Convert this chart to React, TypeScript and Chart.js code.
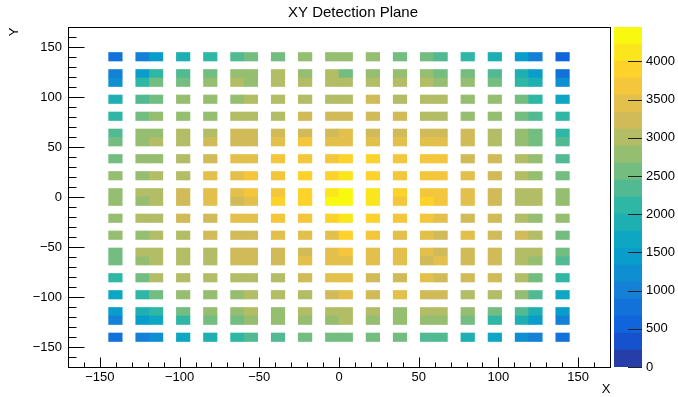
import React, { useEffect, useRef } from 'react';
import { Chart, registerables } from 'chart.js';

Chart.register(...registerables);

const TITLE = 'XY Detection Plane';
const X_TITLE = 'X';
const Y_TITLE = 'Y';

const AXIS_MIN = -170;
const AXIS_MAX = 170;
const BIN_WIDTH = 8.5;

// occupied bin centres (x left→right, y top→bottom)
const xBinCenters = [-140.25, -123.25, -114.75, -97.75, -80.75, -63.75, -55.25, -38.25, -21.25, -4.25, 4.25, 21.25, 38.25, 55.25, 63.75, 80.75, 97.75, 114.75, 123.25, 140.25];
const yBinCenters = [140.25, 123.25, 114.75, 97.75, 80.75, 63.75, 55.25, 38.25, 21.25, 4.25, -4.25, -21.25, -38.25, -55.25, -63.75, -80.75, -97.75, -114.75, -123.25, -140.25];

// bin contents, one row per y bin (top → bottom)
const row01 = [780, 1000, 1450, 1890, 2110, 2340, 2560, 2560, 2780, 2780, 2780, 2780, 2560, 2560, 2340, 2110, 1890, 1450, 1000, 560];
const row02 = [1000, 1450, 2110, 2340, 2560, 2780, 2780, 3010, 2780, 3010, 2560, 2780, 2780, 2780, 2560, 2560, 2340, 1890, 1450, 780];
const row03 = [1220, 2110, 2560, 2560, 2780, 3010, 2780, 3010, 3010, 3010, 3010, 3010, 3010, 3010, 2780, 2780, 2560, 2110, 1890, 1220];
const row04 = [1890, 2340, 2560, 2780, 2780, 2780, 3010, 3010, 3010, 3010, 3010, 3230, 3010, 3010, 3010, 2780, 2780, 2560, 2110, 1670];
const row05 = [2110, 2560, 2780, 2780, 2780, 3010, 3010, 3010, 3230, 3230, 3230, 3230, 3230, 3010, 3010, 2780, 2780, 2560, 2340, 2110];
const row06 = [2340, 2780, 2780, 3010, 3010, 3230, 3230, 3230, 3230, 3230, 3450, 3230, 3230, 3230, 3230, 3230, 3010, 2780, 2560, 2110];
const row07 = [2560, 2780, 3010, 3010, 3230, 3230, 3230, 3450, 3670, 3450, 3450, 3450, 3450, 3450, 3450, 3230, 3010, 2780, 2560, 2340];
const row08 = [2560, 2780, 2780, 3010, 3230, 3450, 3450, 3670, 3670, 3670, 3900, 3900, 3670, 3670, 3670, 3230, 3230, 3010, 2780, 2340];
const row09 = [2780, 2780, 3010, 3010, 3450, 3450, 3670, 3670, 3900, 3900, 4120, 3900, 3670, 3670, 3670, 3450, 3230, 3010, 2780, 2560];
const row10 = [2780, 3010, 3010, 3230, 3450, 3450, 3670, 3670, 3900, 4120, 4340, 4120, 3900, 3670, 3670, 3450, 3230, 3010, 3010, 2780];
const row11 = [2780, 2780, 3010, 3230, 3450, 3230, 3450, 3900, 3900, 4340, 4450, 4120, 3670, 3900, 3670, 3450, 3230, 3010, 3010, 2780];
const row12 = [2780, 3010, 3010, 3230, 3230, 3450, 3450, 3670, 3670, 3900, 4120, 3900, 3670, 3670, 3450, 3230, 3230, 3010, 2780, 2780];
const row13 = [2780, 2780, 3010, 3010, 3230, 3230, 3230, 3450, 3450, 3450, 3900, 3670, 3450, 3450, 3230, 3450, 3230, 3230, 3010, 2560];
const row14 = [2560, 3010, 3010, 3010, 3010, 3230, 3230, 3230, 3230, 3450, 3670, 3450, 3450, 3450, 3230, 3230, 3230, 3010, 3010, 2560];
const row15 = [2560, 2780, 3010, 3010, 3010, 3230, 3230, 3230, 3450, 3450, 3450, 3450, 3450, 3230, 3450, 3230, 3230, 3010, 2780, 2340];
const row16 = [2110, 2560, 3010, 3010, 3010, 3010, 3010, 3010, 3230, 3450, 3450, 3230, 3230, 3450, 3230, 3230, 3230, 3010, 2560, 2110];
const row17 = [1670, 2110, 2560, 2780, 2780, 2780, 3010, 3010, 3010, 3230, 3450, 3230, 3450, 3230, 3230, 3010, 3010, 2780, 2340, 1670];
const row18 = [1450, 1890, 2110, 2560, 2780, 2780, 3010, 2780, 3010, 3010, 3010, 3010, 2780, 3010, 3010, 2780, 2560, 2340, 1890, 1450];
const row19 = [1000, 1450, 1670, 2110, 2560, 2560, 2780, 2780, 2780, 2780, 3010, 2780, 2780, 2780, 2780, 2560, 2110, 1890, 1450, 1000];
const row20 = [780, 1000, 1220, 1670, 1890, 2110, 2340, 2340, 2560, 2560, 2560, 2560, 2560, 2340, 2340, 1890, 1670, 1220, 1000, 780];
const counts = [row01, row02, row03, row04, row05, row06, row07, row08, row09, row10, row11, row12, row13, row14, row15, row16, row17, row18, row19, row20];

const xTickValues = [-150, -100, -50, 0, 50, 100, 150];
const yTickValues = [-150, -100, -50, 0, 50, 100, 150];
const zTickValues = [0, 500, 1000, 1500, 2000, 2500, 3000, 3500, 4000];
const MINOR_STEP = 10;

const Z_MAX = 4450;
const N_CONTOURS = 20;

// ROOT kBird palette
const birdStops = [0.0, 0.125, 0.25, 0.375, 0.5, 0.625, 0.75, 0.875, 1.0];
const birdR = [0.2082, 0.0592, 0.078, 0.0232, 0.1802, 0.5301, 0.8186, 0.9956, 0.9764];
const birdG = [0.1664, 0.3599, 0.5041, 0.6419, 0.7178, 0.7492, 0.7328, 0.7862, 0.9832];
const birdB = [0.5293, 0.8684, 0.8385, 0.7914, 0.6425, 0.4662, 0.3499, 0.1968, 0.0539];

function buildPalette(n: number): string[] {
  const out: string[] = [];
  for (let g = 1; g < birdStops.length; g++) {
    const nc = Math.floor(n * birdStops[g]) - Math.floor(n * birdStops[g - 1]);
    for (let c = 0; c < nc; c++) {
      const r = birdR[g - 1] + (c * (birdR[g] - birdR[g - 1])) / nc;
      const gg = birdG[g - 1] + (c * (birdG[g] - birdG[g - 1])) / nc;
      const b = birdB[g - 1] + (c * (birdB[g] - birdB[g - 1])) / nc;
      out.push(`rgb(${Math.round(r * 255)},${Math.round(gg * 255)},${Math.round(b * 255)})`);
    }
  }
  return out;
}
const PALETTE = buildPalette(255);
const levelColor = (j: number) => PALETTE[Math.min(PALETTE.length - 1, Math.floor(((j + 0.99) * PALETTE.length) / N_CONTOURS))];
const valueColor = (v: number) => {
  let j = Math.floor((v / Z_MAX) * N_CONTOURS);
  if (j < 0) j = 0;
  if (j > N_CONTOURS - 1) j = N_CONTOURS - 1;
  return levelColor(j);
};

const FONT_FAMILY = '"Liberation Sans", Arial, Helvetica, sans-serif';
const fmt = (v: number) => (v < 0 ? '\u2212' + Math.abs(v) : String(v));

const W = 678;
const H = 397;
const PLOT_LEFT = 68;
const PLOT_RIGHT = 610;
const PLOT_TOP = 27;
const PLOT_BOTTOM = 367;

export default function App() {
  const mainRef = useRef<HTMLCanvasElement | null>(null);
  const barRef = useRef<HTMLCanvasElement | null>(null);

  useEffect(() => {
    const cells: { x: number; y: [number, number]; v: number }[] = [];
    yBinCenters.forEach((yc, r) => {
      xBinCenters.forEach((xc, c) => {
        const v = counts[r][c];
        if (v > 0) cells.push({ x: xc, y: [yc - BIN_WIDTH / 2, yc + BIN_WIDTH / 2], v });
      });
    });
    const colors = cells.map((c) => valueColor(c.v));

    const framePlugin = {
      id: 'rootFrame',
      afterDraw(chart: any) {
        const { ctx, chartArea: a, scales } = chart;
        const xs = scales.x;
        const ys = scales.y;
        ctx.save();
        ctx.strokeStyle = '#000';
        ctx.lineWidth = 1;
        const L = Math.round(a.left) + 0.5;
        const R = Math.round(a.right) + 0.5;
        const T = Math.round(a.top) + 0.5;
        const B = Math.round(a.bottom) + 0.5;
        ctx.strokeRect(L, T, R - L, B - T);
        ctx.beginPath();
        for (let v = AXIS_MIN + MINOR_STEP; v < AXIS_MAX; v += MINOR_STEP) {
          const major = xTickValues.includes(v);
          const px = Math.round(xs.getPixelForValue(v)) + 0.5;
          ctx.moveTo(px, B);
          ctx.lineTo(px, B - (major ? 10 : 5));
          const py = Math.round(ys.getPixelForValue(v)) + 0.5;
          const majorY = yTickValues.includes(v);
          ctx.moveTo(L, py);
          ctx.lineTo(L + (majorY ? 16 : 8), py);
        }
        ctx.stroke();

        ctx.fillStyle = '#000';
        ctx.font = `15px ${FONT_FAMILY}`;
        ctx.textAlign = 'center';
        ctx.textBaseline = 'middle';
        ctx.fillText(TITLE, 353, 13);

        ctx.font = `13px ${FONT_FAMILY}`;
        ctx.textAlign = 'right';
        ctx.fillText(X_TITLE, R, 389);

        ctx.translate(14, T);
        ctx.rotate(-Math.PI / 2);
        ctx.textAlign = 'right';
        ctx.fillText(Y_TITLE, 0, 0);
        ctx.restore();
      },
    };

    const main = new Chart(mainRef.current as HTMLCanvasElement, {
      type: 'bar',
      data: {
        datasets: [
          {
            data: cells as any,
            backgroundColor: colors,
            borderWidth: 0,
            barPercentage: 1,
            categoryPercentage: 1,
          },
        ],
      },
      options: {
        animation: false,
        responsive: false,
        maintainAspectRatio: false,
        layout: { padding: { left: 0, right: W - PLOT_RIGHT, top: PLOT_TOP, bottom: 0 } },
        plugins: { legend: { display: false }, tooltip: { enabled: false }, title: { display: false } },
        scales: {
          x: {
            type: 'linear',
            min: AXIS_MIN,
            max: AXIS_MAX,
            offset: false,
            grid: { display: false, drawTicks: false },
            border: { display: false },
            ticks: {
              color: '#000',
              font: { family: FONT_FAMILY, size: 13 },
              padding: 3,
              maxRotation: 0,
              autoSkip: false,
              callback: (v: any) => fmt(Number(v)),
            },
            afterBuildTicks: (s: any) => {
              s.ticks = xTickValues.map((value) => ({ value }));
            },
            afterFit: (s: any) => {
              s.height = H - PLOT_BOTTOM;
            },
          },
          y: {
            type: 'linear',
            min: AXIS_MIN,
            max: AXIS_MAX,
            grid: { display: false, drawTicks: false },
            border: { display: false },
            ticks: {
              color: '#000',
              font: { family: FONT_FAMILY, size: 13 },
              padding: 6,
              autoSkip: false,
              callback: (v: any) => fmt(Number(v)),
            },
            afterBuildTicks: (s: any) => {
              s.ticks = yTickValues.map((value) => ({ value }));
            },
            afterFit: (s: any) => {
              s.width = PLOT_LEFT;
            },
          },
        },
      },
      plugins: [framePlugin],
    });

    const barLeft = 600;
    const barW = W - barLeft;
    const paletteTicks = {
      id: 'paletteTicks',
      afterDraw(chart: any) {
        const { ctx, chartArea: a, scales } = chart;
        ctx.save();
        ctx.strokeStyle = '#222';
        ctx.lineWidth = 1;
        ctx.beginPath();
        zTickValues.forEach((v) => {
          const py = Math.round(scales.y.getPixelForValue(v)) + 0.5;
          ctx.moveTo(a.right, py);
          ctx.lineTo(a.right - 14, py);
        });
        ctx.stroke();
        ctx.restore();
      },
    };

    const bands = Array.from({ length: N_CONTOURS }, (_, j) => j);
    const bar = new Chart(barRef.current as HTMLCanvasElement, {
      type: 'bar',
      data: {
        labels: [''],
        datasets: bands.map((j) => ({
          data: [Z_MAX / N_CONTOURS],
          backgroundColor: levelColor(j),
          borderWidth: 0,
          barPercentage: 1,
          categoryPercentage: 1,
          stack: 'z',
        })),
      },
      options: {
        animation: false,
        responsive: false,
        maintainAspectRatio: false,
        layout: { padding: { left: 614 - barLeft, right: 0, top: PLOT_TOP, bottom: H - PLOT_BOTTOM } },
        plugins: { legend: { display: false }, tooltip: { enabled: false } },
        scales: {
          x: { display: false, stacked: true },
          y: {
            position: 'right',
            stacked: true,
            min: 0,
            max: Z_MAX,
            grid: { display: false, drawTicks: false },
            border: { display: false },
            ticks: {
              color: '#000',
              font: { family: FONT_FAMILY, size: 13 },
              padding: 4,
              autoSkip: false,
              callback: (v: any) => String(v),
            },
            afterBuildTicks: (s: any) => {
              s.ticks = zTickValues.map((value) => ({ value }));
            },
            afterFit: (s: any) => {
              s.width = barW - (642 - barLeft);
            },
          },
        },
      },
      plugins: [paletteTicks],
    });

    return () => {
      main.destroy();
      bar.destroy();
    };
  }, []);

  return (
    <div style={{ position: 'absolute', left: 0, top: 0, width: W, height: H, background: '#fff' }}>
      <canvas ref={mainRef} width={W} height={H} style={{ position: 'absolute', left: 0, top: 0, width: W, height: H }} />
      <canvas ref={barRef} width={78} height={H} style={{ position: 'absolute', left: 600, top: 0, width: 78, height: H }} />
    </div>
  );
}
